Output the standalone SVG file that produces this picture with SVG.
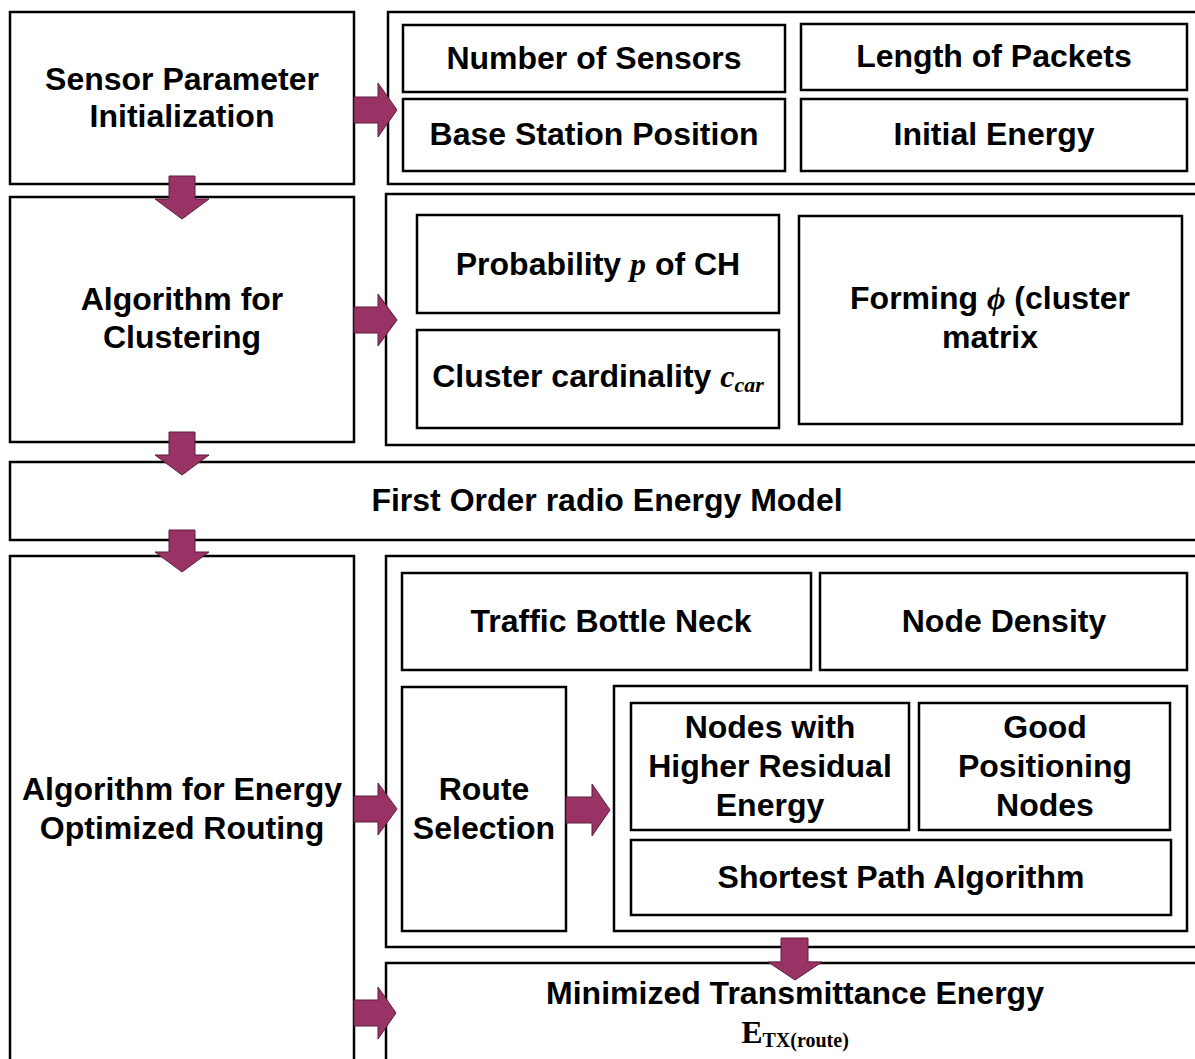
<svg xmlns="http://www.w3.org/2000/svg" width="1195" height="1059" viewBox="0 0 1195 1059">
<style>
rect{fill:#fff;stroke:#000;stroke-width:2.5}
text{font-family:"Liberation Sans",Arial,sans-serif;font-weight:bold;font-size:32px;fill:#000;text-anchor:middle}
.m{font-family:"Liberation Serif","Times New Roman",serif;font-style:italic;font-weight:bold}
.e{font-family:"Liberation Serif","Times New Roman",serif;font-weight:bold}
.arr{fill:#993366;stroke:#5c1f3d;stroke-width:1}
</style>
<rect x="0" y="0" width="1195" height="1059" style="fill:#fff;stroke:none"/>
<g id="sensor-init"><rect x="10" y="12" width="344" height="172"/><text x="182" y="90">Sensor Parameter</text><text x="182" y="127">Initialization</text></g>
<g id="params"><rect x="388" y="12" width="820" height="172"/></g>
<g id="num-sensors"><rect x="403" y="25" width="382" height="67"/><text x="594" y="69">Number of Sensors</text></g>
<g id="len-packets"><rect x="801" y="24" width="386" height="66"/><text x="994" y="67">Length of Packets</text></g>
<g id="bs-pos"><rect x="403" y="99" width="382" height="72"/><text x="594" y="145">Base Station Position</text></g>
<g id="init-energy"><rect x="801" y="99" width="386" height="72"/><text x="994" y="145">Initial Energy</text></g>
<g id="clustering"><rect x="10" y="197" width="344" height="245"/><text x="182" y="310">Algorithm for</text><text x="182" y="348">Clustering</text></g>
<g id="cluster-params"><rect x="386" y="194" width="822" height="251"/></g>
<g id="prob"><rect x="417" y="215" width="362" height="98"/><text x="598" y="275">Probability <tspan class="m">p</tspan> of CH</text></g>
<g id="cardinality"><rect x="417" y="330" width="362" height="98"/><text x="598" y="387">Cluster cardinality <tspan class="m">c</tspan><tspan class="m" font-size="22" dy="5">car</tspan></text></g>
<g id="forming"><rect x="799" y="216" width="383" height="208"/><text x="990" y="309">Forming <tspan class="m">ϕ</tspan> (cluster</text><text x="990" y="348">matrix</text></g>
<g id="energy-model"><rect x="10" y="462" width="1200" height="78"/><text x="607" y="511">First Order radio Energy Model</text></g>
<g id="routing"><rect x="10" y="556" width="344" height="520"/><text x="182" y="800">Algorithm for Energy</text><text x="182" y="839">Optimized Routing</text></g>
<g id="routing-params"><rect x="386" y="556" width="822" height="391"/></g>
<g id="traffic"><rect x="402" y="573" width="409" height="97"/><text x="611" y="632">Traffic Bottle Neck</text></g>
<g id="density"><rect x="820" y="573" width="367" height="97"/><text x="1004" y="632">Node Density</text></g>
<g id="route-sel"><rect x="402" y="687" width="164" height="244"/><text x="484" y="800">Route</text><text x="484" y="839">Selection</text></g>
<g id="criteria"><rect x="614" y="686" width="573" height="245"/></g>
<g id="residual"><rect x="631" y="703" width="278" height="127"/><text x="770" y="738">Nodes with</text><text x="770" y="777">Higher Residual</text><text x="770" y="816">Energy</text></g>
<g id="positioning"><rect x="919" y="703" width="251" height="127"/><text x="1045" y="738">Good</text><text x="1045" y="777">Positioning</text><text x="1045" y="816">Nodes</text></g>
<g id="shortest"><rect x="631" y="840" width="540" height="75"/><text x="901" y="888">Shortest Path Algorithm</text></g>
<g id="min-energy"><rect x="386" y="963" width="822" height="110"/><text x="795" y="1004">Minimized Transmittance Energy</text><text class="e" x="795" y="1043" font-size="32">E<tspan font-size="20" dy="4">TX(route)</tspan></text></g>
<g id="connectors">
<polygon class="arr" points="354,97 378,97 378,83 397,110 378,137 378,123 354,123"/>
<polygon class="arr" points="354,307 378,307 378,294 397,320 378,346 378,333 354,333"/>
<polygon class="arr" points="354,796 378,796 378,783 397,809 378,835 378,822 354,822"/>
<polygon class="arr" points="566,797 592,797 592,784 610,810 592,836 592,823 566,823"/>
<polygon class="arr" points="354,1000 378,1000 378,987 396,1013 378,1039 378,1026 354,1026"/>
<polygon class="arr" points="169,176 195,176 195,199 209,199 182,219 155,199 169,199"/>
<polygon class="arr" points="169,432 195,432 195,455 209,455 182,475 155,455 169,455"/>
<polygon class="arr" points="169,530 195,530 195,552 209,552 182,572 155,552 169,552"/>
<polygon class="arr" points="781,938 808,938 808,962 822,962 795,980 768,962 781,962"/>
</g>
</svg>
